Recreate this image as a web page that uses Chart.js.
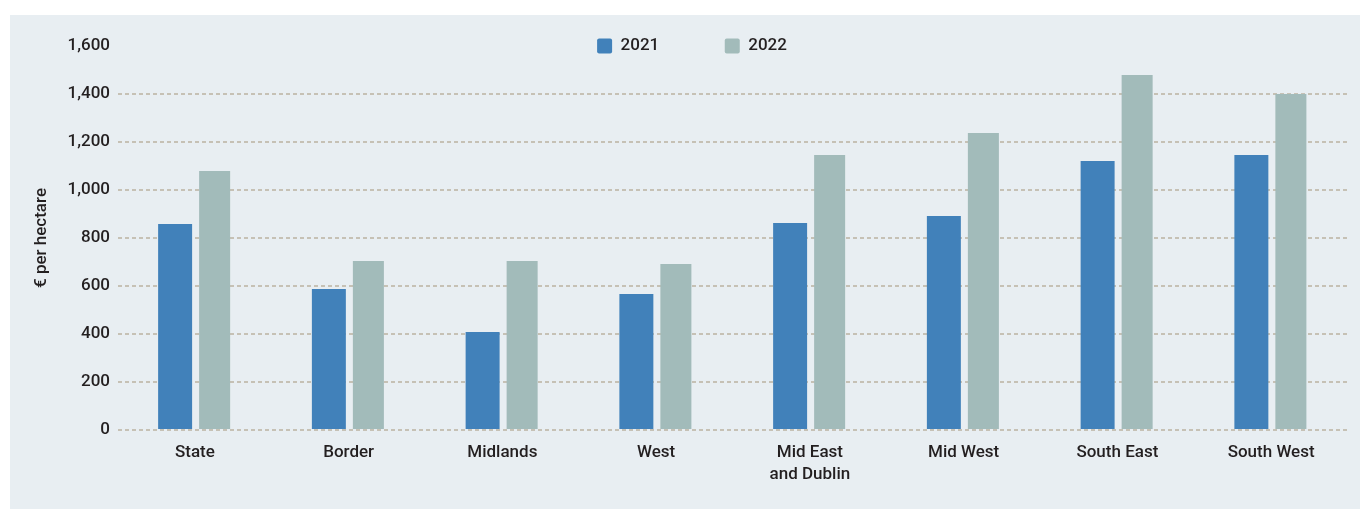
<!DOCTYPE html>
<html>
<head>
<meta charset="utf-8">
<script src="https://cdn.jsdelivr.net/npm/chart.js@4.4.1/dist/chart.umd.min.js"></script>
<style>
    html, body {
        margin: 0;
        padding: 0;
        background: #ffffff;
        overflow: hidden;
    }
    .panel {
        position: absolute;
        left: 10px;
        top: 15px;
        right: 0;
        bottom: 0;
        background: #e8eef2;
    }
    .wrap {
        position: absolute;
        left: 0;
        top: 0;
        width: 1360px;
        height: 509px;
    }
</style>
</head>
<body>
<div class="panel"></div>
<div class="wrap"><canvas id="myChart"></canvas></div>
<script>
const regioes = ['State', 'Border', 'Midlands', 'West', ['Mid East', 'and Dublin'], 'Mid West', 'South East', 'South West'];
const valores2021 = [858, 588, 408, 567, 862, 892, 1121, 1146];
const valores2022 = [1079, 704, 704, 692, 1146, 1238, 1479, 1400];
const ticksY = [0, 200, 400, 600, 800, 1000, 1200, 1400, 1600];

const corTexto = '#231f20';
const fonte = 'Roboto, "Noto Sans", sans-serif';

// legend sits partly over the plot top: reserve less room for it in the layout,
// then give it back its full box so the labels are not clipped
const alturaLegenda = 74;
const legendaCompacta = {
    id: 'legendaCompacta',
    beforeInit(chart) {
        const fitOriginal = chart.legend.fit;
        chart.legend.fit = function fit() {
            fitOriginal.bind(chart.legend)();
            this.alturaTotal = this.height;
            this.height = alturaLegenda;
        };
    },
    afterLayout(chart) {
        const lg = chart.legend;
        lg.height = lg.alturaTotal;
        lg.bottom = lg.top + lg.alturaTotal;
    }
};

const ctx = document.getElementById('myChart').getContext('2d');

const myChart = new Chart(ctx, {
    type: 'bar',
    data: {
        labels: regioes,
        datasets: [{
            label: '2021',
            data: valores2021,
            backgroundColor: '#4181ba',
            borderWidth: 0,
            barPercentage: 0.86
        }, {
            label: '2022',
            data: valores2022,
            backgroundColor: '#a2bbba',
            borderWidth: 0,
            barPercentage: 0.785
        }]
    },
    options: {
        responsive: true,
        maintainAspectRatio: false,
        animation: false,
        locale: 'en-US',
        categoryPercentage: 0.514,
        layout: {
            padding: { top: -28, left: 36, right: 12, bottom: 9 }
        },
        scales: {
            x: {
                grid: { display: false },
                border: { display: false },
                ticks: {
                    color: corTexto,
                    padding: 4,
                    maxRotation: 0,
                    font: { family: fonte, size: 17, weight: 500, lineHeight: 1.3 }
                },
                afterFit(scale) {
                    scale.height = 70;
                }
            },
            y: {
                min: 0,
                max: 1600,
                afterBuildTicks(scale) {
                    scale.ticks = ticksY.map(v => ({ value: v }));
                },
                grid: {
                    drawTicks: false,
                    lineWidth: 2,
                    color: (c) => c.tick && c.tick.value === 1600 ? 'rgba(0,0,0,0)' : '#c6c1b5'
                },
                border: { display: false, dash: [4, 3] },
                ticks: {
                    color: corTexto,
                    padding: 8,
                    font: { family: fonte, size: 17, weight: 500 }
                },
                title: {
                    display: true,
                    text: '€ per hectare',
                    color: corTexto,
                    padding: { top: -4, bottom: 0 },
                    font: { family: fonte, size: 17, weight: 500 }
                },
                afterFit(scale) {
                    scale.width = 82;
                }
            }
        },
        plugins: {
            legend: {
                position: 'top',
                labels: {
                    color: corTexto,
                    boxWidth: 15,
                    boxHeight: 15,
                    padding: 65.5,
                    useBorderRadius: true,
                    borderRadius: 2,
                    font: { family: fonte, size: 17, weight: 500 }
                }
            },
            tooltip: { enabled: false }
        }
    },
    plugins: [legendaCompacta]
});
</script>
</body>
</html>
